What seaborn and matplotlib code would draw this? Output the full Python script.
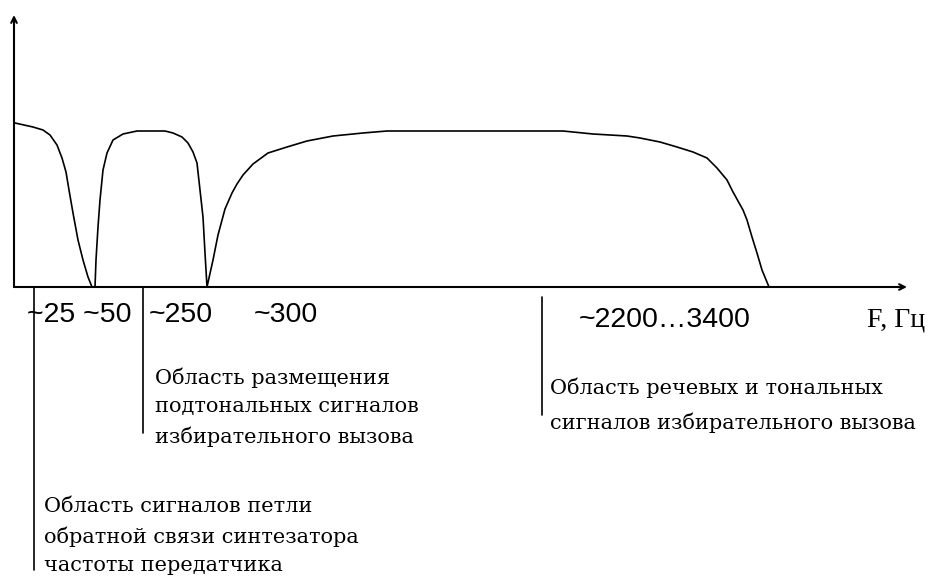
import matplotlib
matplotlib.use('Agg')
import matplotlib.pyplot as plt
import seaborn as sns

# schematic spectrum:
# position along F axis (axis length 893 units) and relative level (plateau = 156)
freq_pos = [1, 19, 29, 36, 43, 48, 52, 55, 59, 64, 69, 74, 78,
            81, 82, 84, 86, 89, 93, 99, 109, 123, 151, 159, 168, 174, 179, 183,
            186, 189, 191, 193,
            199, 204, 211, 218, 223, 229, 239, 254, 273, 293, 319, 349, 373,
            549, 579, 613, 626, 646, 663, 679, 693, 703, 713, 719, 729, 733,
            738, 743, 748, 755]
level = [164, 160, 157, 152, 142, 129, 115, 97, 74, 47, 27, 10, 0,
         0, 27, 60, 87, 117, 134, 147, 153, 156, 156, 154, 150, 144, 135, 124,
         97, 70, 34, 0,
         27, 52, 78, 94, 103, 112, 123, 134, 140, 146, 151, 154, 156,
         156, 153, 151, 149, 145, 140, 135, 129, 119, 107, 95, 77, 67,
         50, 34, 17, 0]

axis_end = 893
axis_top = 272

# region markers below the axis: position, upper and lower end
marker_pos = [20, 129, 528]
marker_top = [-1, -1, -10]
marker_bottom = [-283, -146, -128]

tick_labels = ['~25 ~50', '~250', '~300', '~2200…3400']
axis_label = 'F, Гц'
region_texts = [
    'Область размещения\nподтональных сигналов\nизбирательного вызова',
    'Область сигналов петли\nобратной связи синтезатора\nчастоты передатчика',
    'Область речевых и тональных\nсигналов избирательного вызова',
]

sns.set_style('white')
fig = plt.figure(figsize=(9.41, 5.78), dpi=100)
ax = fig.add_axes([0, 0, 1, 1])

sns.lineplot(x=freq_pos, y=level, ax=ax, color='black', lw=1.2,
             sort=False, estimator=None)

# axes with arrows
ax.annotate('', xy=(0, axis_top), xytext=(0, 0),
            arrowprops=dict(arrowstyle='->', lw=1.5, color='black',
                            shrinkA=0, shrinkB=0))
ax.annotate('', xy=(axis_end, 0), xytext=(0, 0),
            arrowprops=dict(arrowstyle='->', lw=1.5, color='black',
                            shrinkA=0, shrinkB=0))

for x, y0, y1 in zip(marker_pos, marker_top, marker_bottom):
    ax.plot([x, x], [y0, y1], color='black', lw=1.2)

ax.set_xlim(-14, 927)
ax.set_ylim(-291, 287)
ax.set_axis_off()

W, H = 941, 578
def put(px, py, s, va='center', **kw):
    ax.text(px / W, 1 - py / H, s, transform=ax.transAxes, va=va, ha='left', **kw)

num_kw = dict(fontsize=20.5, family='Liberation Sans', color='black')
put(27, 315, tick_labels[0], **num_kw)
put(149, 315, tick_labels[1], **num_kw)
put(254, 315, tick_labels[2], **num_kw)
put(579, 320, tick_labels[3], **num_kw)
put(867, 320, axis_label, fontsize=20, family='Liberation Serif', color='black')

txt_kw = dict(fontsize=15, family='DejaVu Serif', color='black')
put(155, 367, region_texts[0], va='top', linespacing=1.62, **txt_kw)
put(44, 497, region_texts[1], va='top', linespacing=1.62, **txt_kw)
put(550, 378, region_texts[2], va='top', linespacing=1.82, **txt_kw)

plt.savefig('out.png', dpi=100)
plt.close()
